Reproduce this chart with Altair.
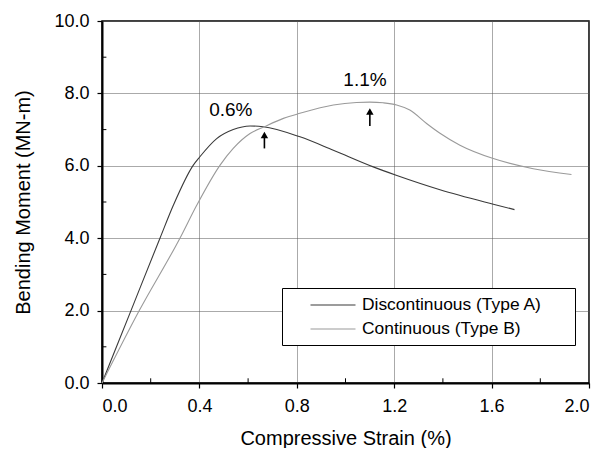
import altair as alt
import pandas as pd

# Discontinuous (Type A)
a_x = [0, 0.119, 0.238, 0.293, 0.375, 0.402, 0.471, 0.539, 0.608, 0.662, 0.813, 0.95, 1.114, 1.208, 1.388, 1.607, 1.694]
a_y = [0, 2.0, 4.0, 4.91, 6.02, 6.25, 6.75, 7.0, 7.10, 7.08, 6.80, 6.43, 5.97, 5.74, 5.34, 4.94, 4.79]
# Continuous (Type B)
b_x = [0, 0.153, 0.32, 0.389, 0.485, 0.539, 0.608, 0.667, 0.745, 0.813, 0.95, 1.045, 1.10, 1.155, 1.21, 1.264, 1.333, 1.388, 1.47, 1.607, 1.771, 1.928]
b_y = [0, 2.0, 4.0, 4.91, 6.02, 6.48, 6.89, 7.08, 7.31, 7.45, 7.68, 7.75, 7.76, 7.74, 7.68, 7.54, 7.17, 6.90, 6.57, 6.20, 5.92, 5.76]

series_names = ["Discontinuous (Type A)", "Continuous (Type B)"]
series_colors = ["#3a3a3a", "#9a9a9a"]

# annotations
ann_text = ["0.6%", "1.1%"]
ann_x = [0.529, 1.08]
ann_y = [7.54, 8.37]
arrow_x = [0.667, 1.10]
arrow_tail = [6.48, 7.10]
arrow_head = [6.85, 7.50]

x_ticks = [0.0, 0.4, 0.8, 1.2, 1.6, 2.0]
y_ticks = [0.0, 2.0, 4.0, 6.0, 8.0, 10.0]
x_minor = [0.2, 0.6, 1.0, 1.4, 1.8]
y_minor = [1.0, 3.0, 5.0, 7.0, 9.0]

FONT = "Liberation Sans"

df = pd.concat([
    pd.DataFrame({"x": a_x, "y": a_y, "series": series_names[0], "order": range(len(a_x))}),
    pd.DataFrame({"x": b_x, "y": b_y, "series": series_names[1], "order": range(len(b_x))}),
])

xscale = alt.Scale(domain=[0, 2.0], nice=False, zero=False)
yscale = alt.Scale(domain=[0, 10.0], nice=False, zero=False)

lines = alt.Chart(df).mark_line(strokeWidth=1.1, interpolate="monotone").encode(
    x=alt.X("x:Q", scale=xscale, title="Compressive Strain (%)",
            axis=alt.Axis(values=x_ticks, format=".1f")),
    y=alt.Y("y:Q", scale=yscale, title="Bending Moment (MN-m)",
            axis=alt.Axis(values=y_ticks, format=".1f")),
    order="order:Q",
    color=alt.Color("series:N", sort=series_names,
                    scale=alt.Scale(domain=series_names, range=series_colors),
                    legend=alt.Legend(
                        title=None, orient="none", legendX=180, legendY=267,
                        strokeColor="black", fillColor="white", padding=7,
                        symbolType="M-2.5,0H2.5M25.8,0", symbolSize=324, symbolStrokeWidth=1.1,
                        symbolOffset=34, labelOffset=19, labelFontSize=17.4,
                        labelFont=FONT, labelColor="black", rowPadding=5,
                        labelLimit=400)),
)

ann_df = pd.DataFrame({"t": ann_text, "x": ann_x, "y": ann_y})
texts = alt.Chart(ann_df).mark_text(font=FONT, fontSize=19, color="black").encode(
    x=alt.X("x:Q", scale=xscale), y=alt.Y("y:Q", scale=yscale), text="t:N")

arr_df = pd.DataFrame({"x": arrow_x, "y1": arrow_tail, "y2": arrow_head})
arrow_shafts = alt.Chart(arr_df).mark_rule(color="black", strokeWidth=1.6).encode(
    x=alt.X("x:Q", scale=xscale), y=alt.Y("y1:Q", scale=yscale), y2="y2:Q")
arrow_heads = alt.Chart(arr_df).mark_point(shape="triangle-up", filled=True, color="black",
                                           size=55, opacity=1).encode(
    x=alt.X("x:Q", scale=xscale), y=alt.Y("y2:Q", scale=yscale))

xm_df = pd.DataFrame({"x": x_minor, "y0": [0.0] * len(x_minor), "y1": [0.13] * len(x_minor)})
x_minor_ticks = alt.Chart(xm_df).mark_rule(color="black", strokeWidth=1).encode(
    x=alt.X("x:Q", scale=xscale), y=alt.Y("y0:Q", scale=yscale), y2="y1:Q")
ym_df = pd.DataFrame({"y": y_minor, "x0": [0.0] * len(y_minor), "x1": [0.018] * len(y_minor)})
y_minor_ticks = alt.Chart(ym_df).mark_rule(color="black", strokeWidth=1).encode(
    y=alt.Y("y:Q", scale=yscale), x=alt.X("x0:Q", scale=xscale), x2="x1:Q")

chart = alt.layer(lines, x_minor_ticks, y_minor_ticks, arrow_shafts, arrow_heads, texts).properties(
    width=487, height=362,
    autosize=alt.AutoSizeParams(type="none"),
    padding={"left": 94, "top": 13, "right": 9, "bottom": 65},
).configure_view(
    stroke="black", strokeWidth=1.5
).configure_axis(
    labelFont=FONT, titleFont=FONT, labelFontSize=18, titleFontSize=20,
    labelColor="black", titleColor="black", titleFontWeight="normal",
    domainColor="black", domainWidth=2, tickColor="black", tickSize=5, tickWidth=1.2,
    grid=True, gridColor="#555555", gridDash=[1, 1], gridWidth=1, gridOpacity=1,
).configure_axisX(
    labelPadding=9, titlePadding=13
).configure_axisY(
    labelPadding=8, titlePadding=20
)

chart.save("out.html", embed_options={"renderer": "svg", "actions": False})
